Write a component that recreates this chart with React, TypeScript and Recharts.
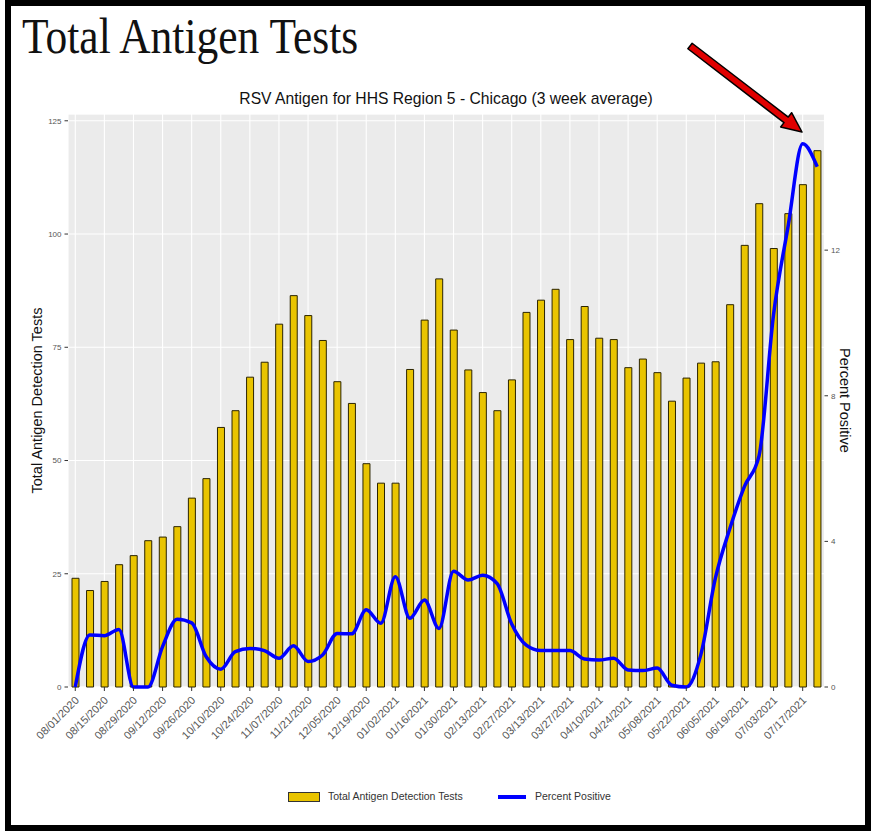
import React from 'react'
import { ComposedChart, Bar, Line, XAxis, YAxis, CartesianGrid, Legend } from 'recharts'

const weeks = [
  '08/01/2020', '08/08/2020', '08/15/2020', '08/22/2020', '08/29/2020', '09/05/2020', '09/12/2020',
  '09/19/2020', '09/26/2020', '10/03/2020', '10/10/2020', '10/17/2020', '10/24/2020', '10/31/2020',
  '11/07/2020', '11/14/2020', '11/21/2020', '11/28/2020', '12/05/2020', '12/12/2020', '12/19/2020',
  '12/26/2020', '01/02/2021', '01/09/2021', '01/16/2021', '01/23/2021', '01/30/2021', '02/06/2021',
  '02/13/2021', '02/20/2021', '02/27/2021', '03/06/2021', '03/13/2021', '03/20/2021', '03/27/2021',
  '04/03/2021', '04/10/2021', '04/17/2021', '04/24/2021', '05/01/2021', '05/08/2021', '05/15/2021',
  '05/22/2021', '05/29/2021', '06/05/2021', '06/12/2021', '06/19/2021', '06/26/2021', '07/03/2021',
  '07/10/2021', '07/17/2021', '07/24/2021',
]

const totalTests = [
  24.0, 21.3, 23.3, 27.0, 29.0, 32.3, 33.1, 35.4, 41.7, 46.0,
  57.3, 61.0, 68.4, 71.7, 80.1, 86.4, 82.0, 76.5, 67.4, 62.6,
  49.3, 45.0, 45.0, 70.1, 81.0, 90.1, 78.8, 70.0, 65.0, 61.0,
  67.8, 82.7, 85.4, 87.8, 76.7, 84.0, 77.0, 76.7, 70.5, 72.4,
  69.4, 63.1, 68.2, 71.5, 71.8, 84.4, 97.5, 106.7, 96.8, 104.5,
  110.9, 118.4,
]

const percentPositive = [
  0, 1.43, 1.41, 1.58, 0, 0, 1.11, 1.86, 1.76, 0.83,
  0.49, 0.97, 1.06, 1.0, 0.79, 1.13, 0.7, 0.88, 1.47, 1.46,
  2.12, 1.75, 3.03, 1.89, 2.39, 1.61, 3.18, 2.94, 3.07, 2.84,
  1.73, 1.15, 1.0, 1.0, 1.0, 0.77, 0.74, 0.79, 0.47, 0.45,
  0.52, 0.05, 0, 0.89, 2.99, 4.36, 5.51, 6.35, 10.24, 12.66,
  14.92, 14.29,
]

const leftTicks = [0, 25, 50, 75, 100, 125]
const minorTicks = [0, 12.5, 25, 37.5, 50, 62.5, 75, 87.5, 100, 112.5, 125]
const rightTicks = [0, 4, 8, 12]

const data = weeks.map((week, i) => ({ week, tests: totalTests[i], pct: percentPositive[i] }))

const SANS = '"Liberation Sans", Arial, sans-serif'
const GOLD = '#E9C400'
const BLUE = '#0000FF'

function DateTick({ x, y, payload }: any) {
  const ax = x + 4.5
  const ay = y + 8
  return (
    <text x={ax} y={ay} textAnchor="end" transform={`rotate(-45 ${ax} ${ay})`}
      fontSize={11} fill="#555" fontFamily={SANS}>
      {payload.value}
    </text>
  )
}

function LeftTitle({ viewBox }: any) {
  const cx = viewBox.x + viewBox.width / 2 + 3
  const cy = viewBox.y + viewBox.height / 2
  return (
    <text x={cx} y={cy} transform={`rotate(-90 ${cx} ${cy})`} textAnchor="middle"
      dominantBaseline="central" fontSize={14.5} fill="#111" fontFamily={SANS}>
      Total Antigen Detection Tests
    </text>
  )
}

function RightTitle({ viewBox }: any) {
  const cx = viewBox.x + viewBox.width / 2 - 4
  const cy = viewBox.y + viewBox.height / 2
  return (
    <text x={cx} y={cy} transform={`rotate(90 ${cx} ${cy})`} textAnchor="middle"
      dominantBaseline="central" fontSize={14.5} fill="#111" fontFamily={SANS}>
      Percent Positive
    </text>
  )
}

function LegendBox() {
  return (
    <div style={{ position: 'relative', width: 874, height: 20, fontFamily: SANS, fontSize: 10.5, color: '#333' }}>
      <div style={{ position: 'absolute', left: 288, top: 5, width: 30, height: 8, background: GOLD, border: '1px solid #333' }} />
      <span style={{ position: 'absolute', left: 328, top: 3 }}>Total Antigen Detection Tests</span>
      <div style={{ position: 'absolute', left: 498, top: 8, width: 28, height: 3.5, background: BLUE }} />
      <span style={{ position: 'absolute', left: 535, top: 3 }}>Percent Positive</span>
    </div>
  )
}

function arrowPoints(tx: number, ty: number, hx: number, hy: number) {
  const dx = hx - tx, dy = hy - ty
  const len = Math.hypot(dx, dy)
  const ux = dx / len, uy = dy / len
  const px = -uy, py = ux
  const bx = hx - ux * 20, by = hy - uy * 20
  const pts = [
    [tx + px * 3.5, ty + py * 3.5], [bx + px * 3.5, by + py * 3.5], [bx + px * 9, by + py * 9],
    [hx, hy], [bx - px * 9, by - py * 9], [bx - px * 3.5, by - py * 3.5], [tx - px * 3.5, ty - py * 3.5],
  ]
  return pts.map((p) => p.join(',')).join(' ')
}

export default function App() {
  return (
    <div style={{ position: 'absolute', left: 0, top: 0, width: 874, height: 832, background: '#fff' }}>
      <ComposedChart width={874} height={832} data={data} margin={{ top: 114, right: 0, bottom: 25, left: 0 }}>
        <CartesianGrid yAxisId="grid" fill="#EBEBEB" stroke="#fff" strokeWidth={0.6} vertical={false} />
        <CartesianGrid yAxisId="left" fill="none" stroke="#fff" strokeWidth={1.1} />
        <XAxis dataKey="week" interval={1} tick={<DateTick />} tickSize={4} tickMargin={2}
          tickLine={{ stroke: '#333' }} axisLine={false} height={100} />
        <YAxis yAxisId="left" width={68} domain={[0, 126.5]} ticks={leftTicks} tickSize={3.5} tickMargin={3}
          tick={{ fontSize: 8, fill: '#555', fontFamily: SANS }} tickLine={{ stroke: '#333' }} axisLine={false}
          label={<LeftTitle />} />
        <YAxis yAxisId="grid" hide width={0} domain={[0, 126.5]} ticks={minorTicks} />
        <YAxis yAxisId="right" orientation="right" width={49.5} domain={[0, 15.74]} ticks={rightTicks}
          tickSize={3.5} tickMargin={3} tick={{ fontSize: 8, fill: '#555', fontFamily: SANS }}
          tickLine={{ stroke: '#333' }} axisLine={false} label={<RightTitle />} />
        <Legend verticalAlign="bottom" content={<LegendBox />} />
        <Bar yAxisId="left" dataKey="tests" name="Total Antigen Detection Tests" fill={GOLD}
          stroke="#2b2400" strokeWidth={1} barSize={7} isAnimationActive={false} />
        <Line yAxisId="right" dataKey="pct" name="Percent Positive" type="monotone" stroke={BLUE}
          strokeWidth={3.5} dot={false} activeDot={false} isAnimationActive={false} />
      </ComposedChart>
      <svg width={874} height={832} style={{ position: 'absolute', left: 0, top: 0, pointerEvents: 'none' }}>
        <rect x={8} y={3} width={860} height={825} fill="none" stroke="#000" strokeWidth={6} />
        <text transform="translate(22 53) scale(1 1.15)" fontSize={43.5} fill="#111"
          fontFamily='"Liberation Serif", "DejaVu Serif", serif'>
          Total Antigen Tests
        </text>
        <text x={446} y={103.5} textAnchor="middle" fontSize={15.7} fill="#111" fontFamily={SANS}>
          RSV Antigen for HHS Region 5 - Chicago (3 week average)
        </text>
        <polygon points={arrowPoints(690, 46, 802, 132)} fill="#E00000" stroke="#000" strokeWidth={1.5}
          strokeLinejoin="round" />
      </svg>
    </div>
  )
}
